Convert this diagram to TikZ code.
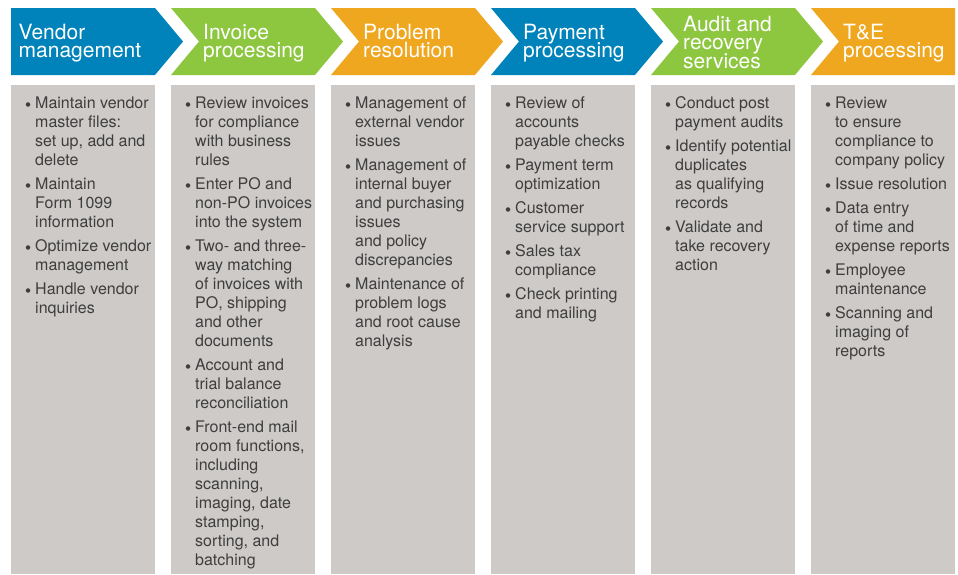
\documentclass[tikz,border=0pt]{standalone}
\usepackage{fontspec}
\setmainfont{TeX Gyre Heros}
\newfontfamily\dejavu{DejaVu Sans}
\definecolor{cblue}{RGB}{0,131,186}
\definecolor{cgreen}{RGB}{141,198,63}
\definecolor{corange}{RGB}{238,167,30}
\definecolor{cgray}{RGB}{205,202,200}
\definecolor{ctext}{RGB}{62,62,62}
\newcommand{\hl}[1]{\hbox{#1}}
\newcommand{\bul}{\raisebox{2.3pt}{\dejavu\fontsize{5.8}{5.8}\selectfont ●}}
\newcommand{\bl}[1]{\hbox{\llap{\bul\hskip4.5pt}#1}}
\newcommand{\gp}{\vskip5pt}
\newcommand{\bodytext}[1]{\vtop{\fontsize{16}{19}\selectfont\baselineskip=19pt\lineskiplimit=-30pt #1}}
\newcommand{\headtext}[1]{\vtop{\fontsize{21}{18.5}\selectfont\baselineskip=18.5pt\lineskiplimit=-30pt #1}}
\tikzset{
  headlbl/.style={anchor=base west, inner sep=0pt, text=white},
  bodylbl/.style={anchor=base west, inner sep=0pt, text=ctext},
  panel/.style={fill=cgray}
}
\begin{document}
\begin{tikzpicture}[x=1pt,y=-1pt]
\useasboundingbox (0,0) rectangle (958,574);
\fill[white] (0,0) rectangle (958,574);
% chevrons
\fill[cblue] (11,8) -- (155,8) -- (183,41.5) -- (155,75) -- (11,75) -- cycle;
\fill[cgreen] (171,8) -- (315,8) -- (343,41.5) -- (315,75) -- (171,75) -- (199,41.5) -- cycle;
\fill[corange] (331,8) -- (475,8) -- (503,41.5) -- (475,75) -- (331,75) -- (359,41.5) -- cycle;
\fill[cblue] (491,8) -- (635,8) -- (663,41.5) -- (635,75) -- (491,75) -- (519,41.5) -- cycle;
\fill[cgreen] (651,8) -- (795,8) -- (823,41.5) -- (795,75) -- (651,75) -- (679,41.5) -- cycle;
\fill[corange] (811,8) -- (955,8) -- (955,75) -- (811,75) -- (839,41.5) -- cycle;
% panels
\foreach \L in {11,171,331,491,651,811} { \fill[panel] (\L,85) rectangle ++(144,489); }
% headers
\node[headlbl] (h1) at (18.5,39.3) {\headtext{\hl{Vendor}\hl{management}}};
\node[headlbl] (h2) at (203,39.3) {\headtext{\hl{Invoice}\hl{processing}}};
\node[headlbl] (h3) at (363,39.3) {\headtext{\hl{Problem}\hl{resolution}}};
\node[headlbl] (h4) at (523,39.3) {\headtext{\hl{Payment}\hl{processing}}};
\node[headlbl] (h5) at (683,31) {\headtext{\hl{Audit and}\hl{recovery}\hl{services}}};
\node[headlbl] (h6) at (843,39.3) {\headtext{\hl{T\&E}\hl{processing}}};
% bodies
\node[bodylbl] (b1) at (35,108.5) {\bodytext{%
\bl{Maintain vendor}\hl{master files:}\hl{set up, add and}\hl{delete}\gp
\bl{Maintain}\hl{Form 1099}\hl{information}\gp
\bl{Optimize vendor}\hl{management}\gp
\bl{Handle vendor}\hl{inquiries}}};
\node[bodylbl] (b2) at (195,108.5) {\bodytext{%
\bl{Review invoices}\hl{for compliance}\hl{with business}\hl{rules}\gp
\bl{Enter PO and}\hl{non-PO invoices}\hl{into the system}\gp
\bl{Two- and three-}\hl{way matching}\hl{of invoices with}\hl{PO, shipping}\hl{and other}\hl{documents}\gp
\bl{Account and}\hl{trial balance}\hl{reconciliation}\gp
\bl{Front-end mail}\hl{room functions,}\hl{including}\hl{scanning,}\hl{imaging, date}\hl{stamping,}\hl{sorting, and}\hl{batching}}};
\node[bodylbl] (b3) at (355,108.5) {\bodytext{%
\bl{Management of}\hl{external vendor}\hl{issues}\gp
\bl{Management of}\hl{internal buyer}\hl{and purchasing}\hl{issues}\hl{and policy}\hl{discrepancies}\gp
\bl{Maintenance of}\hl{problem logs}\hl{and root cause}\hl{analysis}}};
\node[bodylbl] (b4) at (515,108.5) {\bodytext{%
\bl{Review of}\hl{accounts}\hl{payable checks}\gp
\bl{Payment term}\hl{optimization}\gp
\bl{Customer}\hl{service support}\gp
\bl{Sales tax}\hl{compliance}\gp
\bl{Check printing}\hl{and mailing}}};
\node[bodylbl] (b5) at (675,108.5) {\bodytext{%
\bl{Conduct post}\hl{payment audits}\gp
\bl{Identify potential}\hl{duplicates}\hl{as qualifying}\hl{records}\gp
\bl{Validate and}\hl{take recovery}\hl{action}}};
\node[bodylbl] (b6) at (835,108.5) {\bodytext{%
\bl{Review}\hl{to ensure}\hl{compliance to}\hl{company policy}\gp
\bl{Issue resolution}\gp
\bl{Data entry}\hl{of time and}\hl{expense reports}\gp
\bl{Employee}\hl{maintenance}\gp
\bl{Scanning and}\hl{imaging of}\hl{reports}}};
\end{tikzpicture}
\end{document}
